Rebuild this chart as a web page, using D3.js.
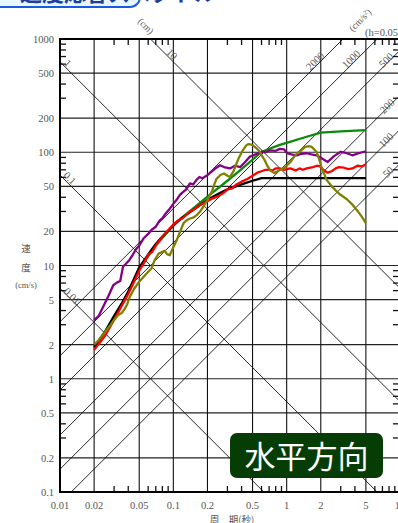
<!DOCTYPE html>
<html>
<head>
<meta charset="utf-8">
<script src="https://cdn.jsdelivr.net/npm/d3@7"></script>
<style>
body{margin:0;background:#fff;}
svg{display:block;}
</style>
</head>
<body>
<svg width="398" height="523"></svg>
<script>
// tick values / labels
var xTicks = [0.01,0.02,0.05,0.1,0.2,0.5,1,2,5,10];
var xTickLabels = ['0.01','0.02','0.05','0.1','0.2','0.5','1','2','5','10'];
var yTicks = [0.1,0.2,0.5,1,2,5,10,20,50,100,200,500,1000];
var yTickLabels = ['0.1','0.2','0.5','1','2','5','10','20','50','100','200','500','1000'];
var minorMult = [3,4,6,7,8,9];

// tripartite guide lines
var dispValues = [0.01,0.1,1,10];       // cm
var dispLabels = ['0.01','0.1','1','10'];
var accValues = [50,100,200,500,1000,2000]; // cm/s2
var accLabels = ['50','100','200','500','1000','2000'];

// spectra (period s, velocity cm/s)
var blackT  = [0.02,0.025,0.03,0.035,0.04,0.05,0.06,0.07,0.08,0.1,0.12,0.15,0.2,0.25,0.3,0.4,0.5,0.6,0.7,1,2,3,5];
var blackSv = [1.9,2.6,3.6,4.6,5.9,9.6,12.5,15.5,18,22.5,26.5,31,38,43,47,52,56,59,59,59,59,59,59];

var redT  = [0.02,0.025,0.03,0.035,0.04,0.045,0.05,0.055,0.06,0.065,0.07,0.08,0.09,0.1,0.11,0.12,0.13,0.14,0.15,0.17,0.2,0.22,0.25,0.28,0.3,0.33,0.36,0.4,0.45,0.5,0.55,0.6,0.65,0.7,0.75,0.8,0.87,0.95,1.0,1.08,1.2,1.3,1.39,1.5,1.7,1.85,1.97,2.1,2.3,2.5,2.7,2.9,3.2,3.5,3.8,4.2,4.6,5];
var redSv = [1.8,2.4,3.3,4.4,5.6,7.2,9.0,10.5,12.5,13.2,15,18,20.5,23,25,26,28,30,31,34,37,39,41,44,47,48,52,55,58,62,66,68,70,70,69,72,72,70,71,72,69,72,70,72,74,76,75,70,66,68,72,74,73,71,72,76,75,78];

var purpleT  = [0.02,0.022,0.025,0.027,0.0295,0.032,0.034,0.036,0.038,0.041,0.044,0.047,0.05,0.055,0.06,0.064,0.07,0.076,0.08,0.085,0.093,0.1,0.107,0.114,0.12,0.13,0.14,0.15,0.16,0.17,0.18,0.2,0.22,0.24,0.258,0.28,0.316,0.35,0.39,0.43,0.47,0.52,0.6,0.65,0.71,0.8,0.87,0.95,1.01,1.1,1.23,1.35,1.5,1.65,1.84,2.05,2.3,2.6,3,3.4,3.8,4.3,5];
var purpleSv = [3.3,3.6,4.7,5.5,6.7,7.1,7.3,9.8,10.3,11.2,12.5,14,15,17.5,19,20.6,22,25,26,28.5,31.7,35,38,41.8,44,47,53,52,57,60.5,59,62.7,68,73,76.8,74,72,76,74,82,91,95,101,100,104,103,107,106,98,96,94,97,98,96,94,88,82,92,101,98,94,98,102];

var greenT  = [0.02,0.03,0.04,0.05,0.07,0.1,0.107,0.15,0.2,0.3,0.4,0.5,0.6,0.87,1.0,1.5,2.0,3.0,5];
var greenSv = [1.85,3.5,5.8,9.3,15,22.5,24.3,32,40.6,56,71,86,101,116,121,137,149,153,157];

var oliveT  = [0.02,0.022,0.025,0.028,0.03,0.0327,0.035,0.037,0.039,0.041,0.045,0.05,0.055,0.06,0.064,0.068,0.074,0.08,0.084,0.088,0.093,0.1,0.107,0.115,0.123,0.13,0.14,0.15,0.16,0.17,0.184,0.2,0.218,0.23,0.24,0.26,0.28,0.3,0.316,0.34,0.36,0.38,0.41,0.44,0.46,0.49,0.51,0.55,0.58,0.61,0.64,0.67,0.71,0.75,0.78,0.83,0.87,0.95,1.0,1.08,1.16,1.25,1.33,1.45,1.55,1.65,1.75,1.84,1.95,2.03,2.15,2.25,2.5,2.9,3.4,3.8,4.2,4.6,5];
var oliveSv = [2.0,2.2,2.6,3.0,3.3,3.65,3.8,4.1,4.5,5.2,6.2,7.2,8.0,8.8,9.4,11,12.7,13.2,13.5,12.6,12.3,14.5,16.7,20,23.6,25,26,26.5,27.7,29.5,33,38,44.5,52,58,63,65,62,60.5,68,79,90,104,115,118,117,114,107,101,92,85,77,70,67,65.6,68,70,72,76,82,91,99,103,111,113,112,106,100,85,74,64,57,50,43,38.5,34.5,30.5,27,23.7];

var svg = d3.select('svg');
var x = d3.scaleLog().domain([0.01,10]).range([60,400]);
var y = d3.scaleLog().domain([0.1,1000]).range([492,39]);
var serif = '"Liberation Serif","DejaVu Serif",serif';
var jp = '"Noto Sans CJK JP","Noto Sans",sans-serif';

// blue header box (cut by top edge)
svg.append('rect').attr('x',-20).attr('y',-40).attr('width',160).attr('height',47).attr('rx',10)
  .attr('fill','#e8f6ff').attr('stroke','#1a5ae0').attr('stroke-width',2);
svg.append('text').attr('x',20).attr('y',1).attr('font-family',jp).attr('font-size',22)
  .attr('font-weight','bold').attr('fill','#1a3fa0').text('速度応答スペクトル');

svg.append('clipPath').attr('id','plot').append('rect')
  .attr('x',60).attr('y',39).attr('width',340).attr('height',453);

// grid
var grid = svg.append('g');
grid.selectAll('.h').data(yTicks).enter().append('line')
  .attr('x1',60).attr('x2',400).attr('y1',d=>y(d)).attr('y2',d=>y(d))
  .attr('stroke','#222').attr('stroke-width',1.2);
grid.selectAll('.v').data(xTicks).enter().append('line')
  .attr('x1',d=>x(d)).attr('x2',d=>x(d)).attr('y1',39).attr('y2',492)
  .attr('stroke','#111').attr('stroke-width',1.1);

// diagonal guide lines
var diag = svg.append('g').attr('clip-path','url(#plot)');
diag.selectAll('.d').data(dispValues).enter().append('line')
  .attr('x1',x(0.001)).attr('y1',d=>y(2*Math.PI*d/0.001))
  .attr('x2',x(100)).attr('y2',d=>y(2*Math.PI*d/100))
  .attr('stroke','#111').attr('stroke-width',0.9);
diag.selectAll('.a').data(accValues).enter().append('line')
  .attr('x1',x(0.001)).attr('y1',d=>y(d*0.001/(2*Math.PI)))
  .attr('x2',x(100)).attr('y2',d=>y(d*100/(2*Math.PI)))
  .attr('stroke','#111').attr('stroke-width',0.9);

// minor ticks
var minorX = [], minorY = [];
[0.01,0.1,1].forEach(function(b){ minorMult.forEach(function(m){ minorX.push(b*m); }); });
[0.1,1,10,100].forEach(function(b){ minorMult.forEach(function(m){ minorY.push(b*m); }); });
var tk = svg.append('g').attr('stroke','#111').attr('stroke-width',1.3);
tk.selectAll('.tb').data(minorX).enter().append('line')
  .attr('x1',d=>x(d)).attr('x2',d=>x(d)).attr('y1',492).attr('y2',486);
tk.selectAll('.tt').data(minorX).enter().append('line')
  .attr('x1',d=>x(d)).attr('x2',d=>x(d)).attr('y1',39).attr('y2',45);
tk.selectAll('.tl').data(minorY).enter().append('line')
  .attr('x1',60).attr('x2',66).attr('y1',d=>y(d)).attr('y2',d=>y(d));
tk.selectAll('.tr').data(minorY).enter().append('line')
  .attr('x1',399).attr('x2',393).attr('y1',d=>y(d)).attr('y2',d=>y(d));

// frame
svg.append('line').attr('x1',60).attr('x2',60).attr('y1',38).attr('y2',493).attr('stroke','#000').attr('stroke-width',2);
svg.append('line').attr('x1',60).attr('x2',400).attr('y1',39).attr('y2',39).attr('stroke','#000').attr('stroke-width',2);
svg.append('line').attr('x1',60).attr('x2',400).attr('y1',492).attr('y2',492).attr('stroke','#000').attr('stroke-width',2);

// curves
var line = d3.line().x(d=>x(d[0])).y(d=>y(d[1]));
var series = [
  {t:greenT, v:greenSv, c:'#0a8a0a'},
  {t:blackT, v:blackSv, c:'#000000'},
  {t:redT, v:redSv, c:'#ff0000'},
  {t:purpleT, v:purpleSv, c:'#850085'},
  {t:oliveT, v:oliveSv, c:'#808000'}
];
var cg = svg.append('g').attr('clip-path','url(#plot)');
series.forEach(function(s){
  cg.append('path').datum(s.t.map((t,i)=>[t,s.v[i]]))
    .attr('d',line).attr('fill','none').attr('stroke',s.c)
    .attr('stroke-width',2.3).attr('stroke-linejoin','round');
});

// tick labels
var lab = svg.append('g').attr('font-family',serif).attr('font-size',10.5).attr('fill','#555');
lab.selectAll('.xl').data(xTicks).enter().append('text')
  .attr('x',d=>x(d)).attr('y',509).attr('text-anchor','middle').text((d,i)=>xTickLabels[i]);
lab.selectAll('.yl').data(yTicks).enter().append('text')
  .attr('x',54).attr('y',d=>y(d)+4).attr('text-anchor','end').text((d,i)=>yTickLabels[i]);

// guide line labels
var dispPos = [[72,296],[70,178],[68,63],[172,54]];
lab.selectAll('.dl').data(dispLabels).enter().append('text')
  .attr('transform',(d,i)=>'translate('+dispPos[i][0]+','+dispPos[i][1]+') rotate(45)')
  .attr('text-anchor','middle').attr('dy','0.35em').text(d=>d);
var accPos = [[388,172],[386,140],[387,106],[386,60],[351,59],[315,61]];
lab.selectAll('.al').data(accLabels).enter().append('text')
  .attr('transform',(d,i)=>'translate('+accPos[i][0]+','+accPos[i][1]+') rotate(-45)')
  .attr('text-anchor','middle').attr('dy','0.35em').text(d=>d);
lab.append('text').attr('transform','translate(146,26) rotate(45)').attr('text-anchor','middle')
  .attr('dy','0.35em').attr('font-size',9.5).text('(cm)');
lab.append('text').attr('transform','translate(360,20) rotate(-45)').attr('text-anchor','middle')
  .attr('dy','0.35em').attr('font-size',9.5).html('(cm/s<tspan baseline-shift="super" font-size="6">2</tspan>)');
lab.append('text').attr('x',365).attr('y',36).attr('font-size',10.5).text('(h=0.05)');

// axis titles
var at = svg.append('g').attr('fill','#555').attr('font-size',9.5).attr('text-anchor','middle');
at.append('text').attr('x',26).attr('y',252).attr('font-family',jp).text('速');
at.append('text').attr('x',26).attr('y',271).attr('font-family',jp).text('度');
at.append('text').attr('x',26).attr('y',288).attr('font-family',serif).attr('font-size',8.5).text('(cm/s)');
at.append('text').attr('x',232).attr('y',523).attr('font-family',jp).text('周　期(秒)');

// badge
svg.append('rect').attr('x',230).attr('y',433).attr('width',153).attr('height',45).attr('rx',7)
  .attr('fill','#053d05');
svg.append('text').attr('x',306.5).attr('y',468).attr('text-anchor','middle')
  .attr('font-family',jp).attr('font-size',31).attr('fill','#fff').text('水平方向');
</script>
</body>
</html>
